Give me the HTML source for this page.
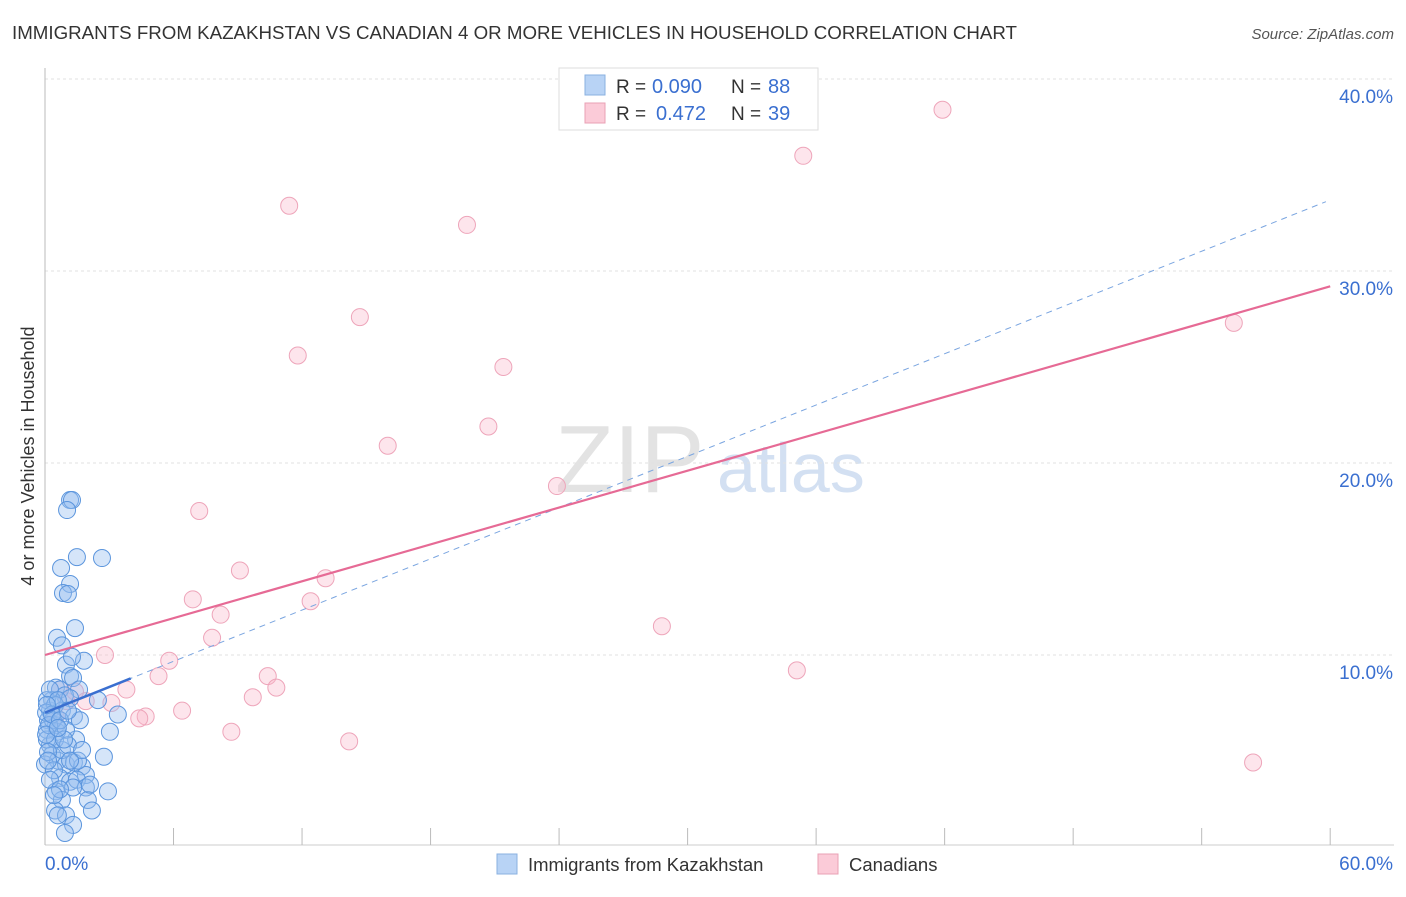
<!DOCTYPE html>
<html><head><meta charset="utf-8"><style>
body{margin:0;background:#fff;font-family:"Liberation Sans",sans-serif;}
svg text{font-family:"Liberation Sans",sans-serif;}
</style></head><body>
<svg id="chart" width="1406" height="892">
<text x="12" y="39" font-size="18" fill="#333" textLength="1005" lengthAdjust="spacingAndGlyphs">IMMIGRANTS FROM KAZAKHSTAN VS CANADIAN 4 OR MORE VEHICLES IN HOUSEHOLD CORRELATION CHART</text>
<text x="1394" y="39" font-size="15" fill="#555" font-style="italic" text-anchor="end">Source: ZipAtlas.com</text>
<text transform="translate(34,456) rotate(-90)" font-size="18" fill="#333" text-anchor="middle">4 or more Vehicles in Household</text>
<g>
<text x="555" y="492" font-size="96" fill="#ddd" font-family="Liberation Serif" opacity="0.8">ZIP</text>
<text x="717" y="492" font-size="70" fill="#c9d9ef" opacity="0.8">atlas</text>
</g>
<g id="grid"></g><g id="ticks"></g><g id="marks"></g><g id="lines"></g>
<g>
<rect x="559" y="68" width="259" height="62" fill="#fff" stroke="#ddd"/>
<rect x="585" y="75" width="20" height="20" fill="#b8d3f5" stroke="#8ab0e0"/>
<rect x="585" y="103" width="20" height="20" fill="#fbcbd8" stroke="#eaa0b5"/>
<text x="616" y="93" font-size="19" fill="#333">R =</text>
<text x="652" y="93" font-size="20" fill="#3a6fd0">0.090</text>
<text x="731" y="93" font-size="19" fill="#333">N =</text>
<text x="768" y="93" font-size="20" fill="#3a6fd0">88</text>
<text x="616" y="120" font-size="19" fill="#333">R =</text>
<text x="656" y="120" font-size="20" fill="#3a6fd0">0.472</text>
<text x="731" y="120" font-size="19" fill="#333">N =</text>
<text x="768" y="120" font-size="20" fill="#3a6fd0">39</text>
</g>
<g>
<rect x="497" y="854" width="20" height="20" fill="#b8d3f5" stroke="#8ab0e0"/>
<text x="528" y="871" font-size="18.5" fill="#333">Immigrants from Kazakhstan</text>
<rect x="818" y="854" width="20" height="20" fill="#fbcbd8" stroke="#eaa0b5"/>
<text x="849" y="871" font-size="18.5" fill="#333">Canadians</text>
</g>
</svg>
<script>
const blueX=[1.17,1.26,1.03,1.49,2.66,0.75,1.17,0.84,1.07,1.4,0.56,0.79,1.82,0.98,1.26,1.17,1.31,0.51,0.7,1.59,0.93,2.47,1.17,3.4,3.03,0.33,0.23,0.14,0.51,0.79,1.35,0.56,1.45,2.75,0.23,0.33,0.6,0.98,1.35,1.73,1.91,0.7,1.17,1.49,1.91,0.51,0.79,1.31,2.0,2.94,0.47,0.98,2.19,1.31,0.93,0.09,0.09,0,0.09,0.47,0.23,0.98,1.63,0.79,0.42,1.54,0.23,0.7,0.37,0.47,0.14,0.6,1.07,1.73,0.6,0.05,0.19,0.05,0.33,0.7,0.89,0.14,1.17,2.1,0.42,0.09,1.07,0.6];
const blueY=[18.07,18.07,17.55,15.1,15.05,14.53,13.7,13.23,13.18,11.4,10.9,10.5,9.7,9.5,9.9,8.9,8.8,8.3,8.2,8.2,7.9,7.65,7.75,6.9,6.0,7.65,7.1,6.6,6.35,7.1,6.8,6.0,5.6,4.7,5.3,4.8,4.5,4.3,4.4,4.2,3.75,3.6,3.4,3.5,3.1,2.9,2.45,3.1,2.45,2.9,1.9,1.65,1.9,1.15,0.73,6.1,5.6,4.3,7.65,7.4,8.2,6.1,6.6,5.05,4.0,4.5,3.5,3.0,6.6,5.6,4.95,7.65,5.3,5.05,1.65,7.0,6.35,5.85,6.9,6.6,5.6,4.5,4.5,3.25,2.7,7.4,7.1,6.2];
const pinkX=[41.9,35.4,11.4,19.7,14.7,11.8,21.4,16.0,20.7,23.9,7.2,9.1,13.1,6.9,12.4,8.2,7.8,28.8,2.8,5.8,5.3,10.4,35.1,10.8,3.8,9.7,6.4,4.7,4.4,8.7,14.2,55.5,56.4,3.1,1.0,0.5,1.9,0.7,1.4];
const pinkY=[38.4,36.0,33.4,32.4,27.6,25.6,25.0,20.9,21.9,18.8,17.5,14.4,14.0,12.9,12.8,12.1,10.9,11.5,10.0,9.7,8.9,8.9,9.2,8.3,8.2,7.8,7.1,6.8,6.7,6.0,5.5,27.3,4.4,7.5,7.6,6.8,7.6,8.2,8.1];
const yTicks=[10,20,30,40];
const yTickLabels=["10.0%","20.0%","30.0%","40.0%"];
const xTicks=[0,6,12,18,24,30,36,42,48,54,60];
const pinkTrend=[10.0,29.2];
const blueTrend=[7.0,33.7];
const blueSolidEnd=4;
const NS="http://www.w3.org/2000/svg";
const sx=v=>45+v*21.42, sy=v=>847-v*19.2;
function mk(p,tag,a){const e=document.createElementNS(NS,tag);for(const k in a)e.setAttribute(k,a[k]);document.getElementById(p).appendChild(e);return e;}
yTicks.forEach((t,i)=>{
 const g=mk('grid','line',{x1:45,x2:1394,y1:sy(t),y2:sy(t),stroke:'#e2e2e2','stroke-dasharray':'3,3'});
 
 
 const l=mk('ticks','text',{x:1393,y:sy(t)+24,'font-size':19,fill:'#3a6fd0','text-anchor':'end'});
 l.textContent=yTickLabels[i];
 
 
});
const ya=mk('ticks','line',{x1:45,x2:45,y1:68,y2:845,stroke:'#bbb'});


const xa=mk('ticks','line',{x1:45,x2:1394,y1:845,y2:845,stroke:'#ccc'});


xTicks.forEach(t=>{
 const k=mk('ticks','line',{x1:sx(t),x2:sx(t),y1:828,y2:845,stroke:'#bbb'});
 
 
});
const x0=mk('ticks','text',{x:45,y:870,'font-size':19,fill:'#3a6fd0'});x0.textContent='0.0%';


const x1=mk('ticks','text',{x:1393,y:870,'font-size':19,fill:'#3a6fd0','text-anchor':'end'});x1.textContent='60.0%';


pinkX.forEach((v,i)=>{
 const c=mk('marks','circle',{cx:sx(v),cy:sy(pinkY[i]),r:8.5,fill:'rgba(248,180,200,0.35)',stroke:'#eea5ba','stroke-width':1});
 
 
});
blueX.forEach((v,i)=>{
 const c=mk('marks','circle',{cx:sx(v),cy:sy(blueY[i]),r:8.5,fill:'rgba(150,190,240,0.4)',stroke:'#5b95dd','stroke-width':1});
 
 
});
const bd=mk('lines','line',{x1:sx(0),y1:sy(blueTrend[0]),x2:sx(59.8),y2:sy(blueTrend[0]+(blueTrend[1]-blueTrend[0])*59.8/60),stroke:'#7aa5e0','stroke-width':1,'stroke-dasharray':'6,5'});


const bs=mk('lines','line',{x1:sx(0),y1:sy(blueTrend[0]),x2:sx(blueSolidEnd),y2:sy(blueTrend[0]+(blueTrend[1]-blueTrend[0])*blueSolidEnd/60),stroke:'#3a6fd0','stroke-width':2.5});


const pl=mk('lines','line',{x1:sx(0),y1:sy(pinkTrend[0]),x2:sx(60),y2:sy(pinkTrend[1]),stroke:'#e66a95','stroke-width':2.2});


</script>
</body></html>
